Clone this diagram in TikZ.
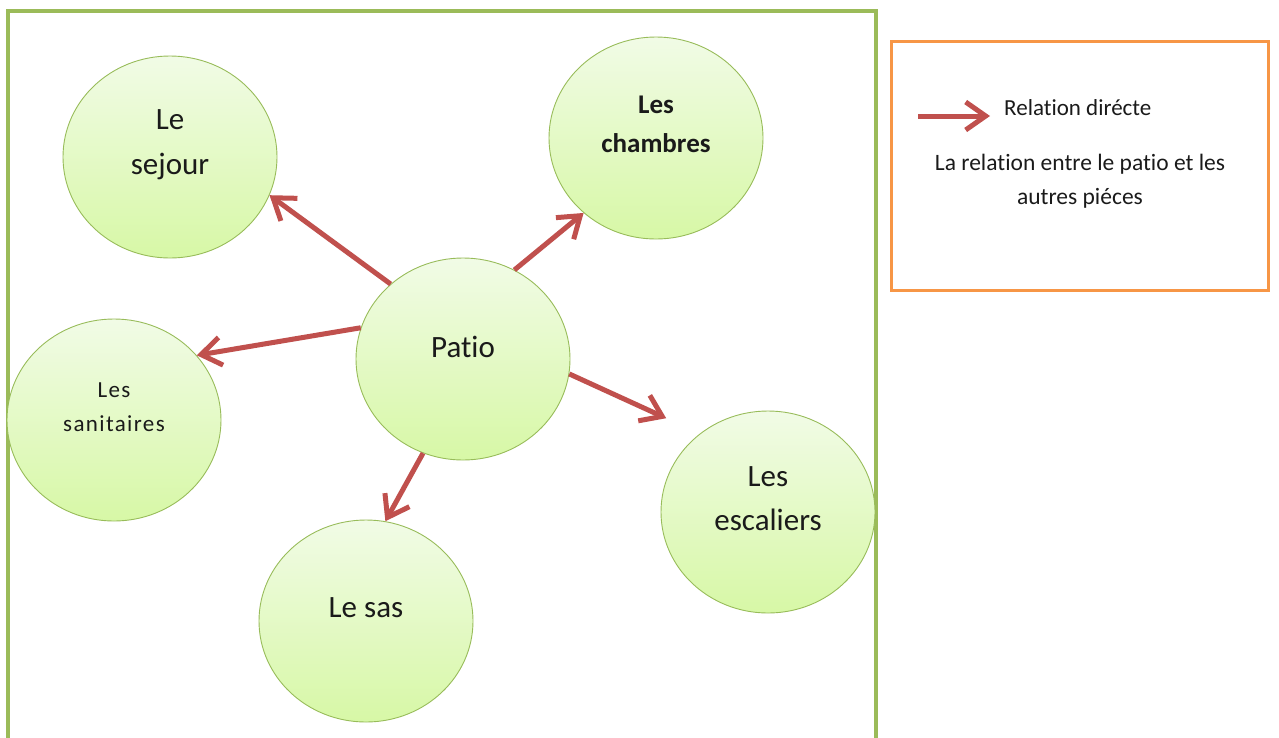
\documentclass[tikz,border=0pt]{standalone}
\usepackage{fontspec}
\setmainfont{Carlito}[Ligatures=NoCommon]
\newfontfamily\spacedfont[LetterSpace=6,Ligatures=NoCommon]{Carlito}
\usetikzlibrary{arrows.meta,shapes.geometric}
\definecolor{frameGreen}{HTML}{9BBB59}
\definecolor{legendOrange}{HTML}{F79646}
\definecolor{arrRed}{HTML}{C0504D}
\definecolor{bubTop}{HTML}{F1FBE6}
\definecolor{bubBot}{HTML}{D7F8A6}
\definecolor{bubEdge}{HTML}{98BC5A}
\definecolor{txt}{HTML}{1A1A1A}
\tikzset{
  bubble/.style={ellipse, minimum width=214pt, minimum height=202pt, inner sep=0pt,
    draw=bubEdge, line width=0.9pt, top color=bubTop, bottom color=bubBot},
  lbl/.style={align=center, text=txt, inner sep=0pt},
  rel/.style={draw=arrRed, line width=5pt, -{Straight Barb[length=20pt,width=28pt]}},
}
\begin{document}
\begin{tikzpicture}[x=1pt,y=-1pt]
\useasboundingbox (0,0) rectangle (1279,737);
% frames
\draw[frameGreen, line width=4pt] (8,760) -- (8,11) -- (876,11) -- (876,760);
\draw[legendOrange, line width=3pt] (891,41) rectangle (1268,290);
% bubbles
\node[bubble] (sejour) at (170,157) {};
\node[bubble] (chambres) at (656,138) {};
\node[bubble] (patio) at (463,359) {};
\node[bubble] (sanitaires) at (114,420) {};
\node[bubble] (sas) at (366,621) {};
\node[bubble] (escaliers) at (768,512) {};
% labels
\node[lbl, font=\fontsize{31}{45}\selectfont] (tsejour) at ([yshift=12pt]sejour.center) {Le\\sejour};
\node[lbl, font=\fontsize{27}{39}\selectfont\bfseries] (tchambres) at ([yshift=14pt]chambres.center) {Les\\chambres};
\node[lbl, font=\fontsize{31}{45}\selectfont] (tpatio) at ([yshift=12pt]patio.center) {Patio};
\node[lbl, font=\fontsize{23}{34}\spacedfont] (tsanitaires) at ([yshift=13pt]sanitaires.center) {Les\\sanitaires};
\node[lbl, font=\fontsize{31}{45}\selectfont] (tsas) at ([yshift=13pt]sas.center) {Le sas};
\node[lbl, font=\fontsize{31}{44}\selectfont] (tescaliers) at ([yshift=13pt]escaliers.center) {Les\\escaliers};
% connectors
\draw[rel] (patio.134) -- (sejour.-21);
\draw[rel] (patio.60) -- (chambres.-134);
\draw[rel] (patio.163) -- (sanitaires.38);
\draw[rel] (patio.-113) -- (sas.79);
\draw[rel, shorten >=37pt] (patio.-8) -- (escaliers.131);
% legend
\coordinate (legA) at (918,116);
\coordinate (legB) at (990,116);
\draw[rel] (legA) -- (legB);
\node[lbl, font=\fontsize{23}{34}\selectfont, anchor=west] (legT) at (1004,108) {Relation dirécte};
\node[lbl, font=\fontsize{23.5}{34}\selectfont] (legD) at (1080,181) {La relation entre le patio et les\\autres piéces};
\end{tikzpicture}
\end{document}
